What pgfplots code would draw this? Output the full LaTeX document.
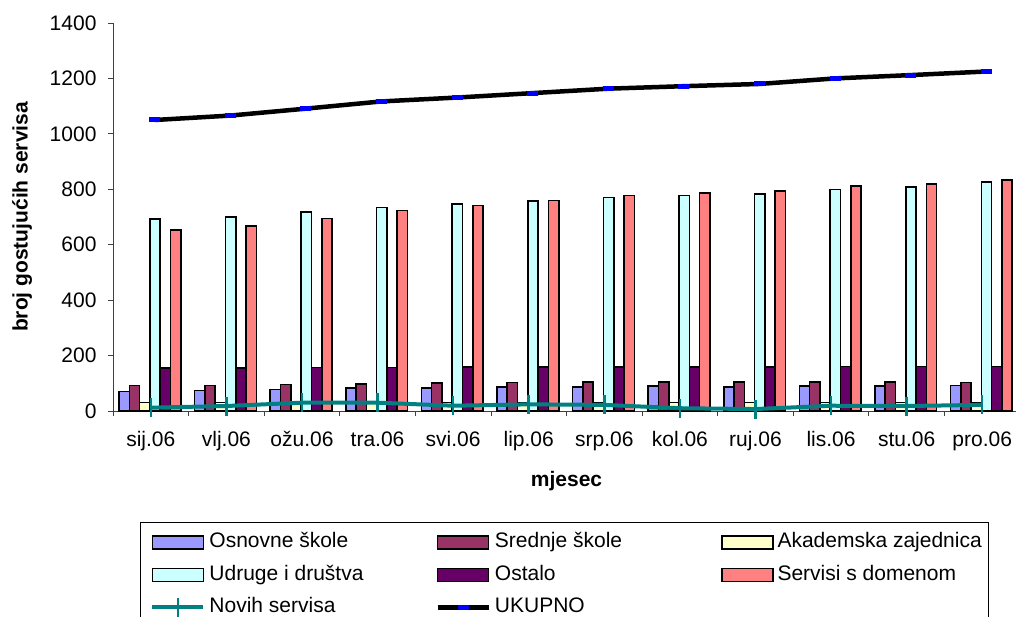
\documentclass[border=0pt]{standalone}
\usepackage{fontspec}
\setmainfont{Liberation Sans}
\usepackage{pgfplots}
\pgfplotsset{compat=1.18}
\definecolor{cOsn}{RGB}{153,153,255}
\definecolor{cSre}{RGB}{153,51,102}
\definecolor{cAka}{RGB}{255,255,204}
\definecolor{cUdr}{RGB}{204,255,255}
\definecolor{cOst}{RGB}{102,0,102}
\definecolor{cSer}{RGB}{255,128,128}
\definecolor{cNov}{RGB}{0,128,128}
\newcommand{\ff}{\fontsize{21}{25}\selectfont}
\pgfplotsset{
  mybar/.style={ybar, bar width=10.3pt, draw=black, line width=1.6pt,
    legend image code/.code={\path (-7pt,0pt); \draw[##1,/tikz/.cd,line width=1.6pt] (0pt,-6.5pt) rectangle (51pt,6.5pt);}},
  myline/.style={
    legend image code/.code={\path (-7pt,0pt); \draw[mark repeat=2,mark phase=2,##1] plot coordinates {(0pt,0pt) (25.5pt,0pt) (51pt,0pt)};}},
}
\begin{document}
\begin{tikzpicture}
\useasboundingbox (0,0) rectangle (1016pt,617pt);
\begin{axis}[
  at={(113pt,206pt)}, anchor=south west,
  scale only axis, width=907pt, height=388pt,
  xmin=-0.5, xmax=11.5, ymin=0, ymax=1400,
  ytick={0,200,...,1400},
  xtick={-0.5,0.5,...,11.5},
  x tick label as interval,
  xticklabels={sij.06,vlj.06,ožu.06,tra.06,svi.06,lip.06,srp.06,kol.06,ruj.06,lis.06,stu.06,pro.06},
  axis x line*=bottom, axis y line*=left,
  axis line style={-, black!75, line width=0.8pt},
  tick align=outside, major tick length=5pt,
  tick style={black!75, line width=0.8pt},
  ticklabel style={font=\ff},
  xticklabel style={yshift=-12pt},
  yticklabel style={xshift=-8pt},
  /pgf/number format/assume math mode=true,
  /pgf/number format/1000 sep={},
  every axis y label/.style={at={(axis description cs:-0.1003,0.5)}, rotate=90, anchor=center, font=\ff\bfseries},
  every axis x label/.style={at={(axis description cs:0.5,0)}, anchor=center, yshift=-70pt, font=\ff\bfseries},
  ylabel={broj gostujućih servisa},
  xlabel={mjesec},
  clip=false,
  legend columns=3,
  legend cell align=left,
  legend style={at={(axis description cs:0.0298,-0.286)}, anchor=north west,
    draw=black, line width=0.8pt, font=\ff, inner xsep=3pt, inner ysep=8pt,
    /tikz/column sep=0pt, /tikz/row sep=8.5pt,
    nodes={inner xsep=4pt, inner ysep=2pt, text height=15.5pt, text depth=4.5pt}},
]
\addplot[mybar, bar shift=-26.6pt, fill=cOsn] coordinates {(0,70) (1,74) (2,78) (3,82) (4,84) (5,86) (6,86) (7,90) (8,87) (9,90) (10,90) (11,92)};
\addlegendentry{\makebox[215pt][l]{Osnovne škole}}
\addplot[mybar, bar shift=-16.3pt, fill=cSre] coordinates {(0,92) (1,92) (2,95) (3,98) (4,100) (5,103) (6,105) (7,105) (8,104) (9,105) (10,105) (11,103)};
\addlegendentry{\makebox[215pt][l]{Srednje škole}}
\addplot[mybar, bar shift=-6pt, fill=cAka] coordinates {(0,31) (1,31) (2,31) (3,31) (4,31) (5,31) (6,31) (7,31) (8,31) (9,31) (10,31) (11,31)};
\addlegendentry{Akademska zajednica}
\addplot[mybar, bar shift=4.3pt, fill=cUdr] coordinates {(0,692) (1,700) (2,719) (3,734) (4,747) (5,758) (6,771) (7,777) (8,783) (9,799) (10,808) (11,826)};
\addlegendentry{\makebox[215pt][l]{Udruge i društva}}
\addplot[mybar, bar shift=14.6pt, fill=cOst] coordinates {(0,155) (1,156) (2,157) (3,157) (4,158) (5,158) (6,158) (7,158) (8,159) (9,160) (10,160) (11,160)};
\addlegendentry{\makebox[215pt][l]{Ostalo}}
\addplot[mybar, bar shift=24.9pt, fill=cSer] coordinates {(0,654) (1,667) (2,694) (3,723) (4,742) (5,759) (6,777) (7,786) (8,793) (9,811) (10,819) (11,834)};
\addlegendentry{Servisi s domenom}
\addplot[myline, draw=cNov, line width=4pt, mark=|, mark size=9.5pt, mark options={draw=cNov, line width=2.5pt}] coordinates {(0,12) (1,18) (2,30) (3,30) (4,19) (5,24) (6,22) (7,10) (8,7) (9,19) (10,18) (11,22)};
\addlegendentry{\makebox[215pt][l]{Novih servisa}}
\addplot[myline, draw=black, line width=4.5pt, mark=-, mark size=5.5pt, mark options={draw=blue, line width=5pt, line cap=butt}] coordinates {(0.053,1050) (1.053,1066) (2.053,1091) (3.053,1117) (4.053,1131) (5.053,1147) (6.053,1163) (7.053,1172) (8.053,1180) (9.053,1200) (10.053,1212) (11.053,1225)};
\addlegendentry{UKUPNO}
\end{axis}
\end{tikzpicture}
\end{document}
